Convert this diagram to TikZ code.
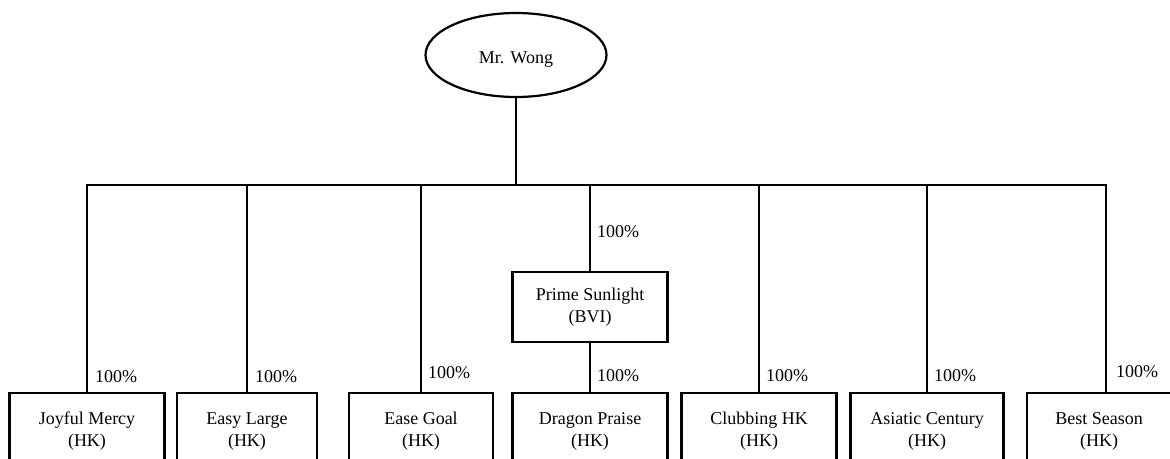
\documentclass[tikz,border=0pt]{standalone}
\usepackage{fontspec}
\setmainfont{Liberation Serif}
\usetikzlibrary{shapes.geometric}
\usetikzlibrary{positioning}

\tikzset{
  co/.style={draw, line width=2.2pt, minimum height=76pt, inner sep=0pt, align=center, font=\fontsize{18}{22}\selectfont},
  share/.style={anchor=west, inner sep=0pt, font=\fontsize{18}{20}\selectfont},
  link/.style={line width=1.4pt},
  heavy/.style={line width=2.6pt},
}

\begin{document}
\begin{tikzpicture}[x=1pt,y=-1pt]
\useasboundingbox (0,0) rectangle (1170,458);

\node[ellipse, draw, line width=2.2pt, minimum width=181pt, minimum height=84pt, inner sep=0pt, font=\fontsize{18}{20}\selectfont](wong) at (516,55) {\raisebox{-8pt}[0pt][0pt]{Mr. Wong}};

% BVI holding
\node[co, minimum width=155pt, minimum height=70pt](ps) at (590,307) {Prime Sunlight\\(BVI)};

% HK companies
\node[co, anchor=north, minimum width=155pt](jm) at (87,392) {Joyful Mercy\\(HK)};
\node[co, anchor=north, minimum width=140pt](el) at (247,392) {Easy Large\\(HK)};
\node[co, anchor=north, minimum width=144pt](eg) at (421,392) {Ease Goal\\(HK)};
\node[co, anchor=north, minimum width=155pt](dp) at (590,392) {Dragon Praise\\(HK)};
\node[co, anchor=north, minimum width=155pt](ch) at (759,392) {Clubbing HK\\(HK)};
\node[co, anchor=north, minimum width=153pt](ac) at (927,392) {Asiatic Century\\(HK)};
\node[co, anchor=north, minimum width=144pt](bs) at (1099,392) {Best Season\\(HK)};

\coordinate (bus) at (516,185);
\coordinate (bsin) at (1106,392);

% trunk
\draw[heavy] (wong.south) -- (bus);

% horizontal and vertical
\draw[link] (jm.north) |- (bus);
\draw[link] (bus -| el.north) -- (el.north);
\draw[link] (bus -| eg.north) -- (eg.north);
\draw[link] (bus -| ps.north) -- (ps.north);
\draw[heavy] (bus) -| (bsin);
\draw[link] (bus -| ch.north) -- (ch.north);
\draw[link] (bus -| ac.north) -- (ac.north);
\draw[heavy] (ps.south) -- (dp.north);

% shares
\node[share](s1) at (95,377) {100\%};
\node[share](s2) at (255,377) {100\%};
\node[share](s3) at (428,373) {100\%};
\node[share](s4) at (597,232) {100\%};
\node[share](s5) at (597,376) {100\%};
\node[share](s6) at (766,376) {100\%};
\node[share](s7) at (934,376) {100\%};
\node[share](s8) at (1116,372) {100\%};

\end{tikzpicture}
\end{document}
